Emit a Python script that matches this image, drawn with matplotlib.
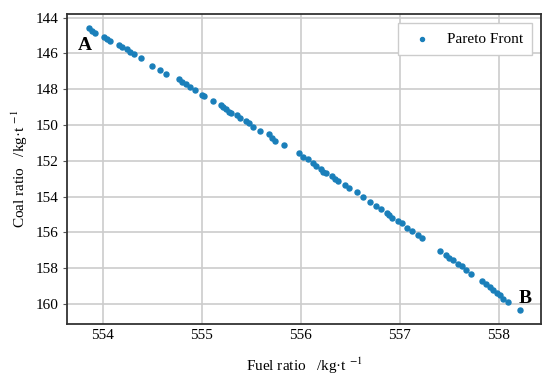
import matplotlib.pyplot as plt

# Pareto front points
fuel_ratio = [553.857, 553.891, 553.924, 554.008, 554.042, 554.076, 554.160, 554.194,
              554.244, 554.278, 554.311, 554.386, 554.497, 554.581, 554.641, 554.766,
              554.800, 554.843, 554.884, 554.934, 555.002, 555.025, 555.119, 555.194,
              555.220, 555.244, 555.271, 555.295, 555.356, 555.389, 555.450, 555.473,
              555.517, 555.591, 555.675, 555.709, 555.742, 555.833, 555.978, 556.028,
              556.069, 556.129, 556.157, 556.204, 556.230, 556.258, 556.315, 556.348,
              556.382, 556.449, 556.493, 556.568, 556.628, 556.702, 556.763, 556.810,
              556.871, 556.897, 556.921, 556.988, 557.022, 557.079, 557.123, 557.190,
              557.224, 557.409, 557.470, 557.503, 557.543, 557.594, 557.628, 557.672,
              557.719, 557.830, 557.874, 557.914, 557.947, 557.982, 558.015, 558.049,
              558.099, 558.217]
coal_ratio = [144.593, 144.727, 144.839, 145.063, 145.192, 145.304, 145.527, 145.656,
              145.768, 145.903, 146.031, 146.272, 146.686, 146.927, 147.167, 147.430,
              147.581, 147.727, 147.861, 148.046, 148.326, 148.382, 148.661, 148.885,
              149.014, 149.126, 149.260, 149.350, 149.445, 149.630, 149.781, 149.909,
              150.100, 150.340, 150.525, 150.715, 150.883, 151.124, 151.588, 151.778,
              151.924, 152.148, 152.282, 152.483, 152.618, 152.674, 152.858, 153.026,
              153.121, 153.362, 153.513, 153.737, 154.050, 154.296, 154.520, 154.705,
              154.890, 155.041, 155.169, 155.377, 155.449, 155.729, 155.919, 156.160,
              156.311, 157.039, 157.240, 157.408, 157.559, 157.744, 157.895, 158.119,
              158.303, 158.717, 158.902, 159.053, 159.238, 159.389, 159.517, 159.702,
              159.893, 160.357]

x_ticks = [554, 555, 556, 557, 558]
y_ticks = [144, 146, 148, 150, 152, 154, 156, 158, 160]

plt.rcParams['font.family'] = ['Liberation Serif', 'DejaVu Serif']
plt.rcParams['mathtext.fontset'] = 'stix'

fig = plt.figure(figsize=(5.5, 3.75), dpi=100)
ax = fig.add_axes([0.122, 0.136, 0.862, 0.827])

ax.scatter(fuel_ratio, coal_ratio, s=13, color='#1a7fba', label='Pareto Front', zorder=3)

ax.set_xlim(553.64, 558.43)
ax.set_ylim(161.12, 143.79)
ax.set_xticks(x_ticks)
ax.set_yticks(y_ticks)
ax.grid(color='#cccccc', linewidth=1.2)
ax.set_axisbelow(True)
ax.tick_params(axis='both', labelsize=11, length=3, color='#555555')
ax.tick_params(axis='x', length=0)
for sp in ax.spines.values():
    sp.set_color('#333333')
    sp.set_linewidth(1.3)

# end points of the front
ax.text(553.82, 145.53, 'A', fontsize=14, fontweight='bold', ha='center', va='center')
ax.text(558.27, 159.68, 'B', fontsize=14, fontweight='bold', ha='center', va='center')

ax.set_xlabel(r'Fuel ratio   /kg·t $^{-1}$', fontsize=11, labelpad=10)
ax.set_ylabel(r'Coal ratio   /kg·t $^{-1}$', fontsize=11, labelpad=4)

leg = ax.legend(loc='upper right', fontsize=11, fancybox=False, framealpha=1,
                edgecolor='#cccccc', markerscale=0.8, handletextpad=0.6,
                borderpad=0.6, borderaxespad=0.6)

fig.savefig('out.png', dpi=100)
